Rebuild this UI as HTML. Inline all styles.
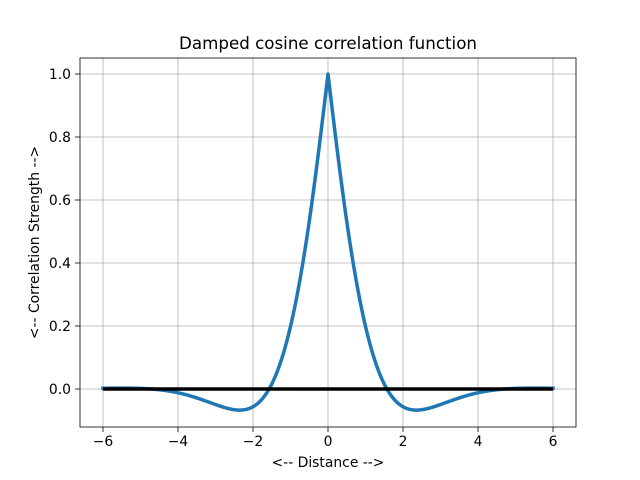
<!DOCTYPE html>
<html><head><meta charset="utf-8"><style>
html,body{margin:0;padding:0;background:#fff;}
svg{display:block;font-family:"DejaVu Sans","Liberation Sans",sans-serif;}
</style></head><body>
<svg width="640" height="480" viewBox="0 0 640 480" xmlns="http://www.w3.org/2000/svg">
<rect width="640" height="480" fill="#fff"/>
<g stroke="#b0b0b0" stroke-width="0.8">
<line x1="103" y1="58" x2="103" y2="427"/>
<line x1="178" y1="58" x2="178" y2="427"/>
<line x1="253" y1="58" x2="253" y2="427"/>
<line x1="328" y1="58" x2="328" y2="427"/>
<line x1="403" y1="58" x2="403" y2="427"/>
<line x1="478" y1="58" x2="478" y2="427"/>
<line x1="553" y1="58" x2="553" y2="427"/>
<line x1="80" y1="389" x2="576" y2="389"/>
<line x1="80" y1="326" x2="576" y2="326"/>
<line x1="80" y1="263" x2="576" y2="263"/>
<line x1="80" y1="200" x2="576" y2="200"/>
<line x1="80" y1="137" x2="576" y2="137"/>
<line x1="80" y1="74" x2="576" y2="74"/>
</g>
<path id="c" fill="none" stroke="#1f77b4" stroke-width="3.5" stroke-linejoin="round" stroke-linecap="square"/>
<line x1="103" y1="389" x2="553" y2="389" stroke="#000" stroke-width="3.5"/>
<rect x="80" y="58" width="496" height="369" fill="none" stroke="#000" stroke-width="0.8"/>
<g stroke="#000" stroke-width="0.8">
<line x1="103" y1="427" x2="103" y2="432"/><line x1="178" y1="427" x2="178" y2="432"/>
<line x1="253" y1="427" x2="253" y2="432"/><line x1="328" y1="427" x2="328" y2="432"/>
<line x1="403" y1="427" x2="403" y2="432"/><line x1="478" y1="427" x2="478" y2="432"/>
<line x1="553" y1="427" x2="553" y2="432"/>
<line x1="75" y1="389" x2="80" y2="389"/><line x1="75" y1="326" x2="80" y2="326"/>
<line x1="75" y1="263" x2="80" y2="263"/><line x1="75" y1="200" x2="80" y2="200"/>
<line x1="75" y1="137" x2="80" y2="137"/><line x1="75" y1="74" x2="80" y2="74"/>
</g>
<g font-size="13.9" fill="#000" text-anchor="middle">
<text x="103" y="446">−6</text><text x="178" y="446">−4</text><text x="253" y="446">−2</text>
<text x="328" y="446">0</text><text x="403" y="446">2</text><text x="478" y="446">4</text><text x="553" y="446">6</text>
</g>
<g font-size="13.9" fill="#000" text-anchor="end">
<text x="71" y="394">0.0</text><text x="71" y="331">0.2</text><text x="71" y="268">0.4</text>
<text x="71" y="205">0.6</text><text x="71" y="142">0.8</text><text x="71" y="79">1.0</text>
</g>
<text x="328" y="467" font-size="13.9" text-anchor="middle">&lt;-- Distance --&gt;</text>
<text transform="translate(39,242.5) rotate(-90)" font-size="13.9" text-anchor="middle">&lt;-- Correlation Strength --&gt;</text>
<text x="328" y="49" font-size="16.7" text-anchor="middle">Damped cosine correlation function</text>
</svg>
<script>
var d="";for(var i=0;i<=1200;i++){var x=-6+12*i/1200;var y=Math.exp(-Math.abs(x))*Math.cos(x);
d+=(i?"L":"M")+(328+x*37.5).toFixed(2)+","+(389-y*315).toFixed(2);}
document.getElementById("c").setAttribute("d",d);
</script>
</body></html>
